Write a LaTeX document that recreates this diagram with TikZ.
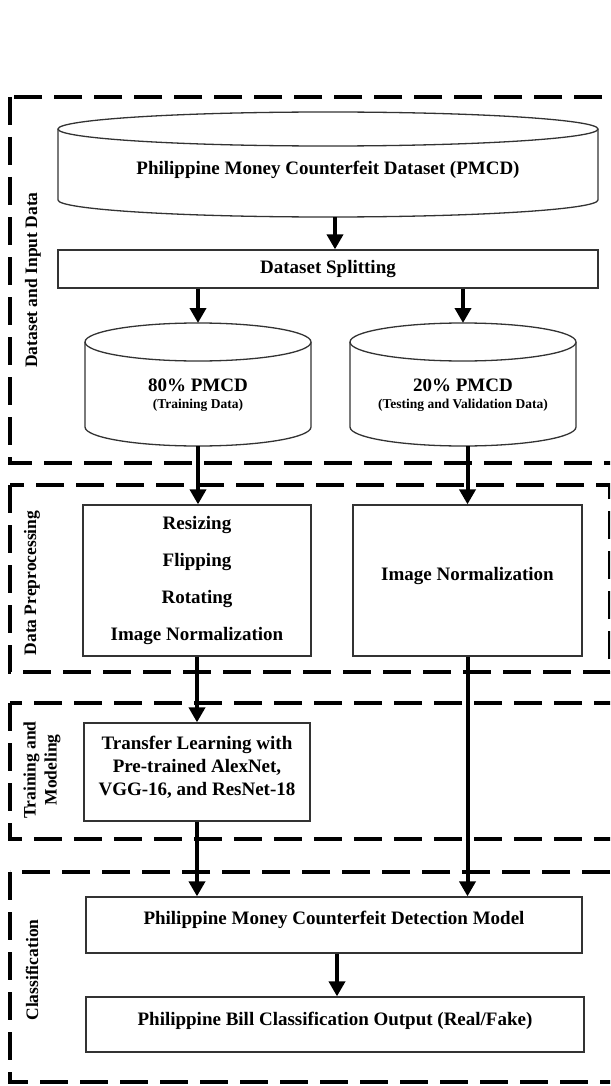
\documentclass[tikz,border=0pt]{standalone}
\usepackage{fontspec}
\setmainfont{Liberation Serif}
\usetikzlibrary{arrows.meta}
\begin{document}
\begin{tikzpicture}[x=1pt,y=-1pt,
  grp/.style={line width=4pt, dash pattern=on 28pt off 12pt},
  pbox/.style={draw=black!80, line width=1.3pt, fill=white, font=\bfseries\fontsize{19}{23}\selectfont, align=center, inner sep=0pt},
  up/.style={text depth=#1},
  arr/.style={line width=4pt, -{Triangle[length=15pt,width=16pt]}},
  lnk/.style={line width=4pt},
  lbl/.style={font=\bfseries\fontsize{17.5}{21}\selectfont, rotate=90, align=center, inner sep=0pt},
  cylline/.style={draw=black!80, line width=1.3pt, fill=white},
  hold/.style={inner sep=0pt, outer sep=0pt},
  txt/.style={font=\bfseries\fontsize{19}{23}\selectfont, align=center, inner sep=0pt},
  small/.style={font=\bfseries\fontsize{13.5}{16}\selectfont, inner sep=0pt}
]
\useasboundingbox (0,0) rectangle (610,1086);
\clip (0,0) rectangle (610,1086);
\fill[white] (0,0) rectangle (610,1086);

% group frames
\draw[grp] (10,97) rectangle (640,463);
\draw[grp] (10,485) rectangle (610,672);
\draw[grp] (10,703) rectangle (640,839);
\draw[grp] (10,872) rectangle (640,1082);

% group labels
\node[lbl] (l1) at (33,280) {Dataset and Input Data};
\node[lbl] (l2) at (32,583) {Data Preprocessing};
\node[lbl] (l3) at (42,770) {Training and\\Modeling};
\node[lbl] (l4) at (32,970) {Classification};

% top cylinder
\draw[cylline] (58,129) -- (58,200) arc[start angle=180,end angle=0,x radius=270,y radius=17] -- (598,129);
\draw[cylline] (328,129) ellipse [x radius=270, y radius=17];
\node[hold, minimum width=540pt, minimum height=105pt] (pmcd) at (328,164.5) {};
\node[txt] (pmcdt) at (328,170) {Philippine Money Counterfeit Dataset (PMCD)};

% splitting
\node[pbox, minimum width=540pt, minimum height=38pt] (split) at (328,269) {Dataset Splitting};

% small cylinders
\draw[cylline] (85,342) -- (85,427) arc[start angle=180,end angle=0,x radius=113,y radius=19] -- (311,342);
\draw[cylline] (198,342) ellipse [x radius=113, y radius=19];
\node[hold, minimum width=226pt, minimum height=123pt] (c80) at (198,384.5) {};
\node[txt] (c80t) at (198,385) {80\% PMCD};
\node[small] (c80s) at (198,405) {(Training Data)};

\draw[cylline] (350,342) -- (350,427) arc[start angle=180,end angle=0,x radius=113,y radius=19] -- (576,342);
\draw[cylline] (463,342) ellipse [x radius=113, y radius=19];
\node[hold, minimum width=226pt, minimum height=123pt] (c20) at (463,384.5) {};
\node[txt] (c20t) at (463,385) {20\% PMCD};
\node[small] (c20s) at (463,405) {(Testing and Validation Data)};

% preprocessing
\node[pbox, minimum width=228pt, minimum height=151pt, font=\bfseries\fontsize{19}{37}\selectfont] (pre1) at (197,580.5)
  {Resizing\\Flipping\\Rotating\\Image Normalization};
\node[pbox, minimum width=229pt, minimum height=151pt, up=14pt] (pre2) at (467.5,580.5) {Image Normalization};

% training
\node[pbox, minimum width=226pt, minimum height=98pt, up=12pt] (tl) at (197,772)
  {Transfer Learning with\\Pre-trained AlexNet,\\VGG-16, and ResNet-18};

% classification
\node[pbox, minimum width=496pt, minimum height=56pt, up=14.4pt] (det) at (334,925) {Philippine Money Counterfeit Detection Model};
\node[pbox, minimum width=498pt, minimum height=55pt, up=11.4pt] (out) at (335,1024.5) {Philippine Bill Classification Output (Real/Fake)};

% connectors
\draw[arr] ([xshift=7pt]pmcd.south) -- ([xshift=7pt]pmcd.south |- split.north);
\draw[arr] (split.south -| c80.north) -- (c80.north);
\draw[arr] (split.south -| c20.north) -- (c20.north);
\draw[arr] (c80.south) -- (c80.south |- pre1.north);
\draw[arr] (c20.south -| pre2.north) -- (pre2.north);
\draw[arr] (pre1.south) -- (pre1.south |- tl.north);
\draw[arr] (tl.south) -- (tl.south |- det.north);
\draw[arr] (pre2.south) -- (pre2.south |- det.north);
\draw[arr] ([xshift=3pt]det.south) -- ([xshift=3pt]det.south |- out.north);
\end{tikzpicture}
\end{document}
